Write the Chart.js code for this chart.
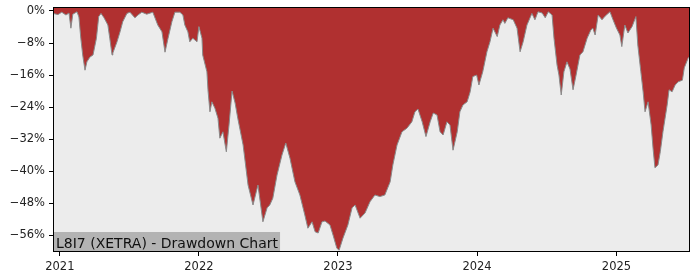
<!DOCTYPE html>
<html>
<head>
<meta charset="utf-8">
<script src="https://cdn.jsdelivr.net/npm/chart.js@4.4.1/dist/chart.umd.min.js"></script>
<style>
  html, body { margin: 0; padding: 0; background: #fff; }
  canvas { display: block; }
</style>
</head>
<body>
<canvas id="dd" width="700" height="280"></canvas>
<script>
// drawdown series
const dates = [
  '2020-12-14','2020-12-27','2021-01-06','2021-01-17','2021-01-25','2021-01-30','2021-02-04','2021-02-15',
  '2021-02-20','2021-02-25','2021-03-02','2021-03-08','2021-03-13','2021-03-21','2021-03-29','2021-04-07',
  '2021-04-13','2021-04-19','2021-04-27','2021-05-07','2021-05-12','2021-05-18','2021-05-20','2021-05-31',
  '2021-06-08','2021-06-15','2021-06-26','2021-07-04','2021-07-17','2021-07-25','2021-08-04','2021-08-17',
  '2021-09-02','2021-09-15','2021-09-26','2021-10-04','2021-10-12','2021-10-22','2021-10-30','2021-11-12',
  '2021-11-20','2021-11-25','2021-12-03','2021-12-08','2021-12-16','2021-12-27','2022-01-01','2022-01-09',
  '2022-01-11','2022-01-22','2022-01-25','2022-01-30','2022-02-04','2022-02-12','2022-02-20','2022-02-25',
  '2022-03-05','2022-03-14','2022-03-21','2022-03-29','2022-04-06','2022-04-13','2022-04-27','2022-05-10',
  '2022-05-23','2022-06-05','2022-06-18','2022-06-29','2022-07-06','2022-07-14','2022-07-25','2022-08-07',
  '2022-08-17','2022-08-28','2022-09-10','2022-09-23','2022-10-06','2022-10-14','2022-10-25','2022-11-02',
  '2022-11-10','2022-11-20','2022-11-28','2022-12-11','2022-12-19','2022-12-29','2023-01-04','2023-01-14',
  '2023-01-27','2023-02-07','2023-02-15','2023-02-28','2023-03-13','2023-03-26','2023-04-08','2023-04-21',
  '2023-05-04','2023-05-18','2023-05-25','2023-06-05','2023-06-18','2023-07-01','2023-07-14','2023-07-22',
  '2023-07-30','2023-08-10','2023-08-20','2023-08-31','2023-09-08','2023-09-18','2023-09-26','2023-10-04',
  '2023-10-14','2023-10-22','2023-10-30','2023-11-10','2023-11-17','2023-11-25','2023-12-06','2023-12-14',
  '2023-12-21','2023-12-31','2024-01-06','2024-01-16','2024-01-27','2024-02-04','2024-02-12','2024-02-23',
  '2024-03-01','2024-03-09','2024-03-14','2024-03-22','2024-04-05','2024-04-15','2024-04-23','2024-05-01',
  '2024-05-11','2024-05-24','2024-06-01','2024-06-09','2024-06-20','2024-06-28','2024-07-06','2024-07-16',
  '2024-07-21','2024-07-29','2024-08-03','2024-08-09','2024-08-16','2024-08-24','2024-09-01','2024-09-09',
  '2024-09-17','2024-09-27','2024-10-05','2024-10-16','2024-10-26','2024-10-31','2024-11-06','2024-11-14',
  '2024-11-24','2024-12-02','2024-12-15','2024-12-23','2025-01-01','2025-01-10','2025-01-15','2025-01-23',
  '2025-01-31','2025-02-11','2025-02-21','2025-02-26','2025-03-06','2025-03-12','2025-03-17','2025-03-25',
  '2025-04-02','2025-04-07','2025-04-12','2025-04-20','2025-04-26','2025-05-03','2025-05-14','2025-05-19',
  '2025-05-27','2025-06-04','2025-06-12','2025-06-23','2025-06-28','2025-07-08','2025-07-13'
];
const drawdown = [
  -0.6, -0.9, -0.3, -1.0, -0.5, -4.3, -0.8, -0.2,
  -1.5, -6.8, -11.0, -14.8, -12.7, -11.5, -11.0, -6.8,
  -1.4, -0.6, -1.7, -3.5, -6.8, -11.0, -10.5, -7.7,
  -5.2, -2.7, -0.6, -0.3, -1.7, -1.0, -0.3, -0.8,
  -0.3, -3.5, -5.2, -10.3, -6.8, -2.7, -0.3, -0.3,
  -1.0, -3.5, -5.2, -7.7, -6.8, -7.7, -3.9, -6.8,
  -11.0, -15.2, -20.0, -25.2, -22.7, -24.3, -26.8, -31.8,
  -30.2, -35.2, -28.5, -20.0, -23.0, -26.8, -33.5, -43.5,
  -48.5, -43.5, -52.7, -49.2, -48.5, -46.8, -41.0, -36.0,
  -33.0, -36.8, -42.7, -46.0, -51.0, -54.3, -52.7, -55.2,
  -55.5, -52.7, -52.5, -53.5, -56.0, -59.3, -59.8, -56.8,
  -53.5, -49.2, -48.5, -51.8, -50.5, -47.7, -46.0, -46.4,
  -46.0, -42.7, -38.5, -33.5, -30.2, -29.3, -27.7, -25.2,
  -24.5, -27.7, -31.4, -27.7, -25.5, -26.0, -30.2, -31.0,
  -27.7, -28.5, -34.8, -30.2, -25.2, -23.5, -22.7, -20.2,
  -16.4, -16.0, -18.5, -15.2, -10.2, -7.7, -4.3, -6.4,
  -3.5, -2.2, -3.1, -1.7, -2.2, -4.3, -10.2, -7.7,
  -3.5, -0.6, -2.2, -0.2, -0.5, -1.7, -0.2, -1.0,
  -6.8, -13.5, -16.0, -21.0, -15.2, -12.7, -14.5, -19.7,
  -16.0, -11.0, -10.2, -6.8, -4.7, -4.3, -6.0, -1.0,
  -2.2, -1.3, -0.2, -2.2, -4.3, -6.0, -8.9, -3.5,
  -5.5, -3.9, -1.4, -8.5, -15.2, -20.2, -25.2, -22.7,
  -28.5, -34.3, -39.2, -38.5, -35.2, -30.2, -23.5, -19.7,
  -20.2, -18.5, -17.7, -17.3, -14.2, -11.8, -11.2
];
const yearTicks = [2021, 2022, 2023, 2024, 2025];
const pctTicks = [0, -8, -16, -24, -32, -40, -48, -56];
const title = 'L8I7 (XETRA) - Drawdown Chart';

const toTs = (s) => Date.parse(s + 'T00:00:00Z');
const points = dates.map((d, i) => ({ x: toTs(d), y: drawdown[i] }));

// frame around the plot + the grey caption box in the lower left corner
const framePlugin = {
  id: 'frame',
  beforeDatasetsDraw(chart) {
    const { ctx, chartArea: a } = chart;
    ctx.save();
    ctx.fillStyle = '#ececec';
    ctx.fillRect(a.left, a.top, a.right - a.left, a.bottom - a.top);
    ctx.restore();
  },
  afterDatasetsDraw(chart) {
    const { ctx, chartArea: a } = chart;
    ctx.save();
    ctx.font = '14px "DejaVu Sans"';
    const w = ctx.measureText(title).width;
    ctx.fillStyle = '#b3b3b3';
    ctx.fillRect(a.left, a.bottom - 20, w + 5, 20);
    ctx.fillStyle = '#111';
    ctx.textBaseline = 'alphabetic';
    ctx.fillText(title, a.left + 3, a.bottom - 4.5);
    ctx.strokeStyle = '#000';
    ctx.lineWidth = 1;
    ctx.strokeRect(Math.round(a.left) + 0.5, Math.round(a.top) + 0.5,
      Math.round(a.right - a.left) - 1, Math.round(a.bottom - a.top) - 1);
    ctx.restore();
  }
};

new Chart(document.getElementById('dd').getContext('2d'), {
  type: 'line',
  data: {
    datasets: [{
      label: 'Drawdown',
      data: points,
      borderColor: '#8a8a8a',
      borderWidth: 1,
      backgroundColor: 'rgb(176,48,48)',
      fill: 'end',
      pointRadius: 0,
      tension: 0
    }]
  },
  options: {
    responsive: false,
    animation: false,
    layout: { padding: { top: 7, right: 10, left: 0, bottom: 0 } },
    plugins: {
      legend: { display: false },
      tooltip: { enabled: false }
    },
    scales: {
      x: {
        type: 'linear',
        min: toTs(dates[0]),
        max: toTs(dates[dates.length - 1]),
        afterBuildTicks(scale) {
          scale.ticks = yearTicks.map((y) => ({ value: Date.UTC(y, 0, 1) }));
        },
        afterFit(scale) {
          scale.height = 28;
          scale.paddingLeft = 0;
          scale.paddingRight = 0;
        },
        ticks: {
          color: '#222',
          font: { family: 'DejaVu Sans', size: 11.5 },
          padding: 4,
          maxRotation: 0,
          autoSkip: false,
          callback: (v) => String(new Date(v).getUTCFullYear())
        },
        grid: { drawOnChartArea: false, drawTicks: true, tickLength: 4, tickColor: '#000' },
        border: { display: false }
      },
      y: {
        min: -60.25,
        max: 1,
        afterBuildTicks(scale) {
          scale.ticks = pctTicks.map((v) => ({ value: v }));
        },
        afterFit(scale) {
          scale.width = 53;
          scale.paddingTop = 0;
          scale.paddingBottom = 0;
        },
        ticks: {
          color: '#222',
          font: { family: 'DejaVu Sans', size: 11.5 },
          padding: 4,
          autoSkip: false,
          callback: (v) => (v === 0 ? '0%' : '\u2212' + Math.abs(v) + '%')
        },
        grid: { drawOnChartArea: false, drawTicks: true, tickLength: 4, tickColor: '#000' },
        border: { display: false }
      }
    }
  },
  plugins: [framePlugin]
});
</script>
</body>
</html>
